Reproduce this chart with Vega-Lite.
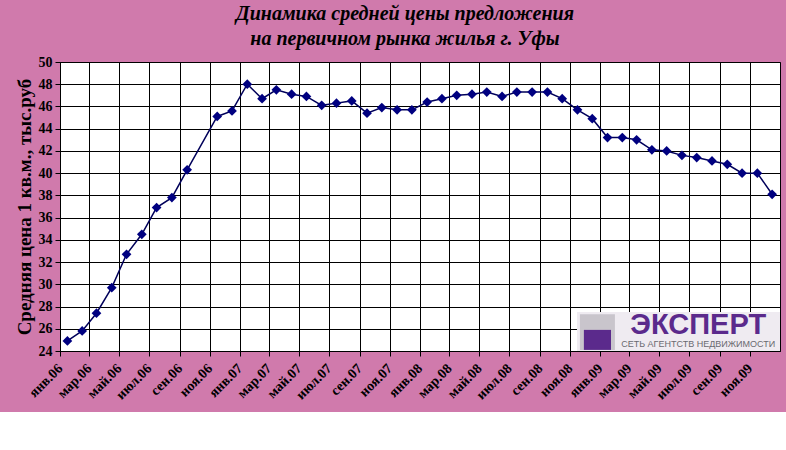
{
  "$schema": "https://vega.github.io/schema/vega-lite/v6.json",
  "width": 720,
  "height": 289,
  "autosize": {"type": "none"},
  "padding": {"left": 60, "top": 62, "right": 6, "bottom": 61},
  "background": "#d07aac",
  "title": {
    "text": ["Динамика средней цены предложения", "на первичном рынка жилья г. Уфы"],
    "font": "Liberation Serif",
    "fontSize": 20,
    "fontWeight": "bold",
    "fontStyle": "italic",
    "color": "#000000",
    "anchor": "middle",
    "frame": "group",
    "dx": -15,
    "offset": 6,
    "lineHeight": 25
  },
  "config": {
    "view": {"fill": "white", "stroke": "black", "strokeWidth": 1},
    "axis": {
      "domainColor": "black",
      "tickColor": "black",
      "gridColor": "black",
      "gridOpacity": 1,
      "gridWidth": 1,
      "tickSize": 5,
      "labelColor": "black",
      "labelFont": "Liberation Serif",
      "labelFontWeight": "bold",
      "titleFont": "Liberation Serif",
      "titleFontWeight": "bold",
      "titleColor": "black",
      "labelOverlap": false
    }
  },
  "layer": [
    {
      "data": {"name": "prices", "values": [
        {"date": "2006-01-16", "price": 24.9},
        {"date": "2006-02-15", "price": 25.8},
        {"date": "2006-03-16", "price": 27.4},
        {"date": "2006-04-16", "price": 29.7},
        {"date": "2006-05-16", "price": 32.7},
        {"date": "2006-06-16", "price": 34.5},
        {"date": "2006-07-16", "price": 36.9},
        {"date": "2006-08-16", "price": 37.8},
        {"date": "2006-09-16", "price": 40.3},
        {"date": "2006-11-16", "price": 45.1},
        {"date": "2006-12-16", "price": 45.6},
        {"date": "2007-01-16", "price": 48.0},
        {"date": "2007-02-15", "price": 46.7},
        {"date": "2007-03-16", "price": 47.5},
        {"date": "2007-04-16", "price": 47.1},
        {"date": "2007-05-16", "price": 46.9},
        {"date": "2007-06-16", "price": 46.1},
        {"date": "2007-07-16", "price": 46.3},
        {"date": "2007-08-16", "price": 46.5},
        {"date": "2007-09-16", "price": 45.4},
        {"date": "2007-10-16", "price": 45.9},
        {"date": "2007-11-16", "price": 45.7},
        {"date": "2007-12-16", "price": 45.7},
        {"date": "2008-01-16", "price": 46.4},
        {"date": "2008-02-15", "price": 46.7},
        {"date": "2008-03-16", "price": 47.0},
        {"date": "2008-04-16", "price": 47.1},
        {"date": "2008-05-16", "price": 47.3},
        {"date": "2008-06-16", "price": 46.9},
        {"date": "2008-07-16", "price": 47.3},
        {"date": "2008-08-16", "price": 47.3},
        {"date": "2008-09-16", "price": 47.3},
        {"date": "2008-10-16", "price": 46.7},
        {"date": "2008-11-16", "price": 45.7},
        {"date": "2008-12-16", "price": 44.9},
        {"date": "2009-01-16", "price": 43.2},
        {"date": "2009-02-15", "price": 43.2},
        {"date": "2009-03-16", "price": 43.0},
        {"date": "2009-04-16", "price": 42.1},
        {"date": "2009-05-16", "price": 42.0},
        {"date": "2009-06-16", "price": 41.6},
        {"date": "2009-07-16", "price": 41.4},
        {"date": "2009-08-16", "price": 41.1},
        {"date": "2009-09-16", "price": 40.8},
        {"date": "2009-10-16", "price": 40.0},
        {"date": "2009-11-16", "price": 40.0},
        {"date": "2009-12-16", "price": 38.1}
      ]},
      "layer": [
        {
          "mark": {"type": "line", "color": "#00005a", "strokeWidth": 1.5},
          "encoding": {
            "x": {
              "field": "date",
              "type": "temporal",
              "scale": {
                "type": "utc",
                "nice": false,
                "domain": [
                  {"year": 2006, "month": 1, "date": 1, "utc": true},
                  {"year": 2009, "month": 12, "date": 31, "hours": 23, "utc": true}
                ]
              },
              "axis": {
                "title": null,
                "grid": true,
                "tickCount": {"interval": "month", "step": 2},
                "labelExpr": "['янв','фев','мар','апр','май','июн','июл','авг','сен','окт','ноя','дек'][utcmonth(datum.value)] + '.' + utcFormat(datum.value, '%y')",
                "labelAngle": -45,
                "labelAlign": "right",
                "labelBaseline": "middle",
                "labelOffset": 0,
                "labelPadding": 10,
                "labelFontSize": 14,
                "labelOverlap": false,
                "labelBound": false,
                "labelFlush": false
              }
            },
            "y": {
              "field": "price",
              "type": "quantitative",
              "scale": {"domain": [24, 50], "nice": false, "zero": false},
              "axis": {
                "title": "Средняя цена 1 кв.м., тыс.руб",
                "titleFontSize": 19,
                "titlePadding": 4,
                "tickCount": 14,
                "labelFontSize": 14,
                "labelPadding": 3,
                "labelOverlap": false,
                "grid": true
              }
            }
          }
        },
        {
          "mark": {"type": "point", "shape": "diamond", "filled": true, "color": "#000080", "size": 95, "opacity": 1},
          "encoding": {
            "x": {"field": "date", "type": "temporal"},
            "y": {"field": "price", "type": "quantitative"}
          }
        }
      ]
    },
    {
      "data": {"values": [{}]},
      "mark": {"type": "rect", "fill": "#efebf1"},
      "encoding": {
        "x": {"datum": {"year": 2008, "month": 11, "date": 15, "utc": true}, "type": "temporal"},
        "x2": {"datum": {"year": 2009, "month": 12, "date": 31, "hours": 23, "utc": true}},
        "y": {"datum": 27.5, "type": "quantitative"},
        "y2": {"datum": 24}
      }
    },
    {
      "data": {"values": [{}]},
      "mark": {"type": "rect", "fill": "#c9c5cc"},
      "encoding": {
        "x": {"datum": {"year": 2008, "month": 11, "date": 21, "utc": true}, "type": "temporal"},
        "x2": {"datum": {"year": 2009, "month": 1, "date": 31, "utc": true}},
        "y": {"datum": 27.3, "type": "quantitative"},
        "y2": {"datum": 24.1}
      }
    },
    {
      "data": {"values": [{}]},
      "mark": {"type": "rect", "fill": "#5b2a8c"},
      "encoding": {
        "x": {"datum": {"year": 2008, "month": 11, "date": 29, "utc": true}, "type": "temporal"},
        "x2": {"datum": {"year": 2009, "month": 1, "date": 23, "utc": true}},
        "y": {"datum": 25.9, "type": "quantitative"},
        "y2": {"datum": 24.1}
      }
    },
    {
      "data": {"values": [{}]},
      "mark": {"type": "text", "text": "ЭКСПЕРТ", "font": "Liberation Sans", "fontWeight": "bold", "fontSize": 29, "color": "#5b2a8c", "align": "center", "baseline": "middle"},
      "encoding": {
        "x": {"datum": {"year": 2009, "month": 7, "date": 19, "utc": true}, "type": "temporal"},
        "y": {"datum": 26.35, "type": "quantitative"}
      }
    },
    {
      "data": {"values": [{}]},
      "mark": {"type": "text", "text": "СЕТЬ АГЕНТСТВ НЕДВИЖИМОСТИ", "font": "Liberation Sans", "fontSize": 9, "color": "#6a6a70", "align": "center", "baseline": "middle"},
      "encoding": {
        "x": {"datum": {"year": 2009, "month": 7, "date": 19, "utc": true}, "type": "temporal"},
        "y": {"datum": 24.6, "type": "quantitative"}
      }
    }
  ]
}
